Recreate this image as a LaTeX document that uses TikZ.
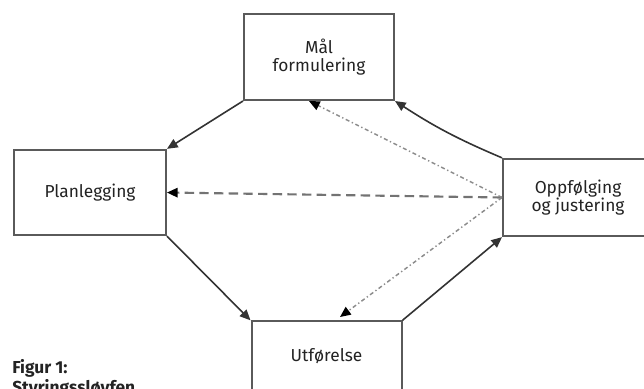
\documentclass[tikz,border=0pt]{standalone}
\usepackage{fontspec}
\setmainfont{Fira Sans}
\usetikzlibrary{arrows.meta}

\definecolor{boxgray}{RGB}{90,90,90}
\definecolor{txtgray}{RGB}{35,35,35}

\tikzset{
  stage/.style={draw=boxgray,line width=1.5,fill=white,align=center,text=txtgray,
    font=\fontsize{13}{13}\selectfont,inner sep=0pt},
  flow/.style={line width=1.2,color=black!80,-{Triangle[length=8pt,width=7pt]}},
  back/.style={line width=1.6,color=black!55,dash pattern={on 7pt off 4pt},-{Triangle[length=8pt,width=7pt,color=black]}},
  hint/.style={line width=1.1,color=black!45,dash pattern={on 3pt off 2pt on 1pt off 2pt},-{Triangle[length=8pt,width=7pt,color=black]}}
}

\begin{document}
\begin{tikzpicture}[x=0.75pt,y=0.75pt,yscale=-1,xscale=1]
\useasboundingbox (0,0) rectangle (644,389);
\clip (0,0) rectangle (644,389);

% boxes
\node[stage,minimum width=112.5pt,minimum height=64.5pt] (maal) at (319,57) {Mål\\formulering};
\node[stage,minimum width=114pt,minimum height=64pt] (plan) at (90,192.5) {Planlegging};
\node[stage,minimum width=112.5pt,minimum height=58pt] (utf) at (326.5,360) {\raisebox{7pt}{Utførelse}};
\node[stage,minimum width=112.5pt,minimum height=58pt] (oppf) at (578,197.5) {Oppfølging\\og justering};

% main loop
\draw[flow] (maal.south west) -- (plan.north east);
\draw[flow] (plan.south east) -- (utf.north west);
\draw[flow] (utf.north east) -- (oppf.south west);
\draw[flow] (oppf.north west) to[bend right=5] (maal.south east);

% feedback
\coordinate (maalfb) at (309,101);
\coordinate (utffb) at (340,317);
\draw[back] (oppf.west) -- (plan.east);
\draw[hint] (oppf.west) -- (maalfb);
\draw[hint] (oppf.west) -- (utffb);

% caption
\node[anchor=north west,align=left,text=txtgray,inner sep=0pt,
  font=\fontsize{13}{15}\selectfont\bfseries] (cap) at (12,359) {Figur 1:\\Styringssløyfen};

\end{tikzpicture}
\end{document}
